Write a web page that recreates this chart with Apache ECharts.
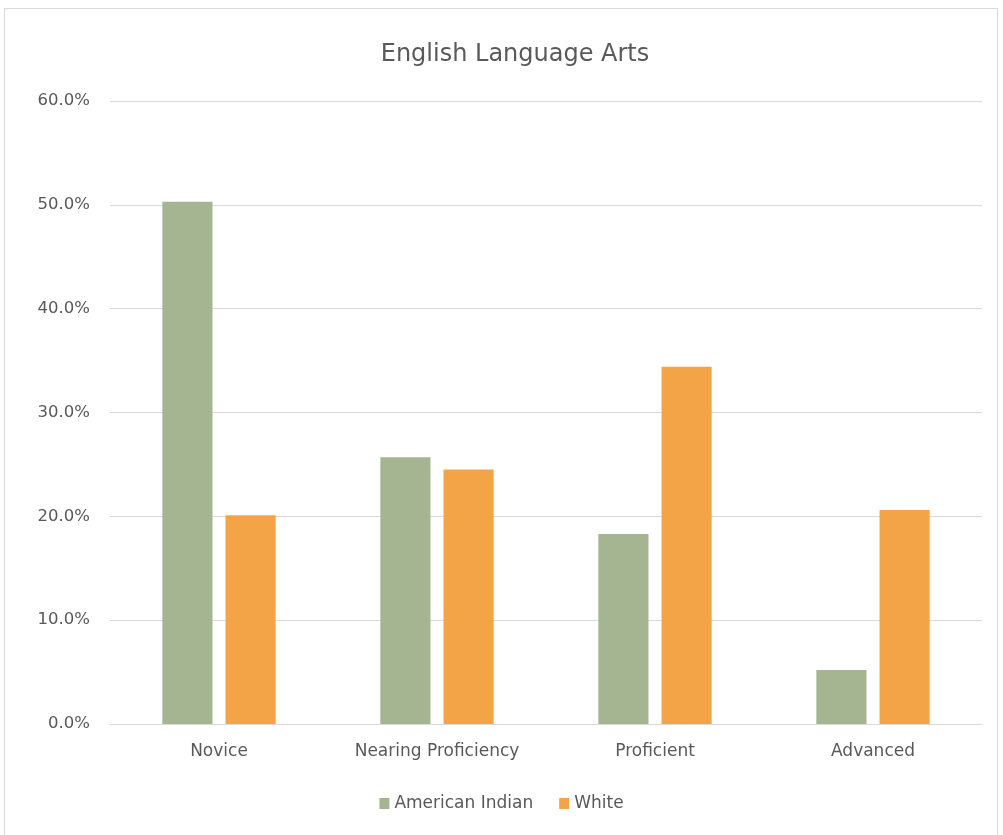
<!DOCTYPE html>
<html>
<head>
<meta charset="utf-8">
<script src="https://cdn.jsdelivr.net/npm/echarts@6/dist/echarts.min.js"></script>
<style>
html,body{margin:0;padding:0;background:#fff;overflow:hidden;}
#frame{position:absolute;left:4px;top:8px;width:994px;height:900px;border:1px solid #d9d9d9;box-sizing:border-box;}
#chart{position:absolute;left:0;top:0;width:1003px;height:835px;}
</style>
</head>
<body>
<div id="frame"></div>
<div id="chart"></div>
<script>
const categories = ['Novice', 'Nearing Proficiency', 'Proficient', 'Advanced'];
const americanIndian = [50.3, 25.7, 18.3, 5.2];
const white = [20.1, 24.5, 34.4, 20.6];
const seriesNames = ['American Indian', 'White'];
const yTicks = { min: 0, max: 60, interval: 10 };

const FONT = 'DejaVu Sans';
const TXT = '#595959';
const chart = echarts.init(document.getElementById('chart'), null, { renderer: 'canvas' });
chart.setOption({
  backgroundColor: 'transparent',
  animation: false,
  title: {
    text: 'English Language Arts',
    left: 510, top: 38, textAlign: 'center',
    textStyle: { fontFamily: FONT, fontSize: 24, fontWeight: 'normal', color: TXT }
  },
  legend: {
    data: seriesNames,
    bottom: 18, left: 'center',
    itemWidth: 10, itemHeight: 11, itemGap: 26,
    icon: 'rect',
    textStyle: { fontFamily: FONT, fontSize: 17, color: TXT, padding: [0, 0, 0, 0] }
  },
  grid: { left: 110, right: 21, top: 101, bottom: 111, containLabel: false },
  xAxis: {
    type: 'category',
    data: categories,
    axisLine: { show: true, lineStyle: { color: '#d9d9d9', width: 1 } },
    axisTick: { show: false },
    axisLabel: { fontFamily: FONT, fontSize: 17, color: TXT, margin: 19 }
  },
  yAxis: {
    type: 'value',
    min: yTicks.min, max: yTicks.max, interval: yTicks.interval,
    axisLine: { show: false },
    axisTick: { show: false },
    splitLine: { lineStyle: { color: '#d9d9d9', width: 1 } },
    axisLabel: { fontFamily: FONT, fontSize: 16.5, color: TXT, margin: 20,
      formatter: v => v.toFixed(1) + '%' }
  },
  series: [
    { name: seriesNames[0], type: 'bar', data: americanIndian, barWidth: '23%', barGap: '26%',
      itemStyle: { color: '#a5b592' } },
    { name: seriesNames[1], type: 'bar', data: white, barWidth: '23%',
      itemStyle: { color: '#f3a447' } }
  ]
});
</script>
</body>
</html>
